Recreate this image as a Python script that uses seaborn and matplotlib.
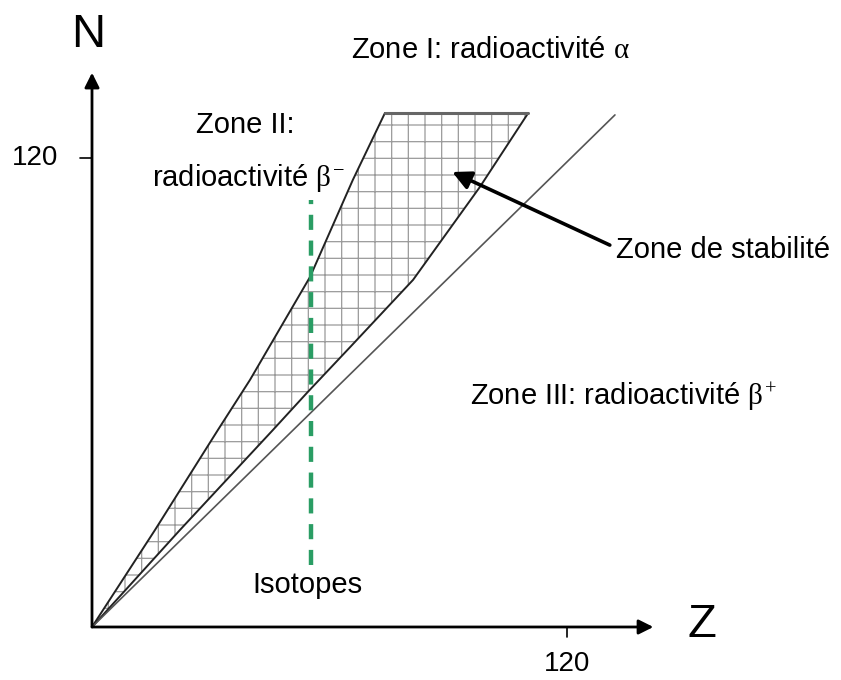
import numpy as np
import seaborn as sns
import matplotlib.pyplot as plt

# frontiere haute de la zone de stabilite (Z, N)
UPPER_Z = [0, 15.9, 31.8, 39.9, 55.1, 65.9, 74.0]
UPPER_N = [0, 24.8, 50.4, 63.2, 89.6, 114.4, 131.5]
# frontiere basse
LOWER_Z = [0, 22.2, 45.7, 54.3, 65.2, 81.1, 98.0, 110.2]
LOWER_N = [0, 24.8, 50.4, 59.9, 71.6, 88.8, 112.6, 131.5]
# droite N = Z
DIAG_Z = [0, 132.1]
DIAG_N = [0, 131.0]
# isotopes (Z fixe)
ISO_Z = 55.3
ISO_N = [15.9, 109.3]
TICK_VAL = 120
AXIS_END = 141.8

sns.set_style("white")
plt.rcParams["font.family"] = ["Liberation Sans", "DejaVu Sans"]
plt.rcParams["mathtext.fontset"] = "custom"
plt.rcParams["mathtext.it"] = "Liberation Serif"
plt.rcParams["mathtext.rm"] = "Liberation Serif"
plt.rcParams["hatch.linewidth"] = 0.9
plt.rcParams["text.color"] = "black"

fig = plt.figure(figsize=(8.41, 6.8), dpi=100)
ax = fig.add_axes([0, 0, 1, 1])
ax.set_xlim(-23.24, 189.2)
ax.set_ylim(-13.56, 160.4)
ax.axis("off")

# zone de stabilite hachuree
poly_z = UPPER_Z + LOWER_Z[::-1]
poly_n = UPPER_N + LOWER_N[::-1]
ax.fill(poly_z, poly_n, facecolor="white", edgecolor="#9a9a9a", linewidth=0, hatch="+")
ax.plot(UPPER_Z, UPPER_N, color="#222222", lw=1.4)
ax.plot(LOWER_Z, LOWER_N, color="#222222", lw=1.4)
ax.plot([UPPER_Z[-1], LOWER_Z[-1]], [UPPER_N[-1], LOWER_N[-1]], color="#666666", lw=2.2)

# N = Z
sns.lineplot(x=DIAG_Z, y=DIAG_N, color="#555555", lw=1.2, ax=ax)

# isotopes
ax.plot([ISO_Z, ISO_Z], ISO_N, color="#2a9d64", lw=3.2, dashes=(3.4, 2.4))

# axes avec fleches
arrow = dict(arrowstyle="-|>", lw=2, color="black", mutation_scale=22, shrinkA=0, shrinkB=0)
ax.annotate("", xy=(AXIS_END, 0), xytext=(0, 0), arrowprops=arrow)
ax.annotate("", xy=(0, AXIS_END), xytext=(0, 0), arrowprops=arrow)
ax.plot([0, -3.0], [TICK_VAL, TICK_VAL], color="black", lw=1.2)
ax.plot([TICK_VAL, TICK_VAL], [0, -2.6], color="black", lw=1.2)

fs = 21
ax.text(-14.4, TICK_VAL, "120", fontsize=20, ha="center", va="center")
ax.text(TICK_VAL, -9.4, "120", fontsize=20, ha="center", va="center")
ax.text(-1.0, 151.5, "N", fontsize=34, ha="center", va="center")
ax.text(154.1, 0.5, "Z", fontsize=34, ha="center", va="center")

ax.text(100.6, 147.6, r"Zone I: radioactivité $\alpha$", fontsize=fs, ha="center", va="center")
ax.text(38.7, 128.5, "Zone II:", fontsize=fs, ha="center", va="center")
ax.text(39.4, 114.9, r"radioactivité $\beta^{-}$", fontsize=fs, ha="center", va="center")
ax.text(132.4, 96.5, "Zone de stabilité", fontsize=fs, ha="left", va="center")
ax.text(95.5, 58.9, r"Zone III: radioactivité $\beta^{+}$", fontsize=fs, ha="left", va="center")
ax.text(54.3, 10.7, "Isotopes", fontsize=fs, ha="center", va="center")

# fleche vers la zone de stabilite
ax.annotate("", xy=(91.0, 116.4), xytext=(130.8, 97.7),
            arrowprops=dict(arrowstyle="-|>", lw=2.6, color="black", mutation_scale=28,
                            shrinkA=0, shrinkB=0))

fig.savefig("out.png", dpi=100)
